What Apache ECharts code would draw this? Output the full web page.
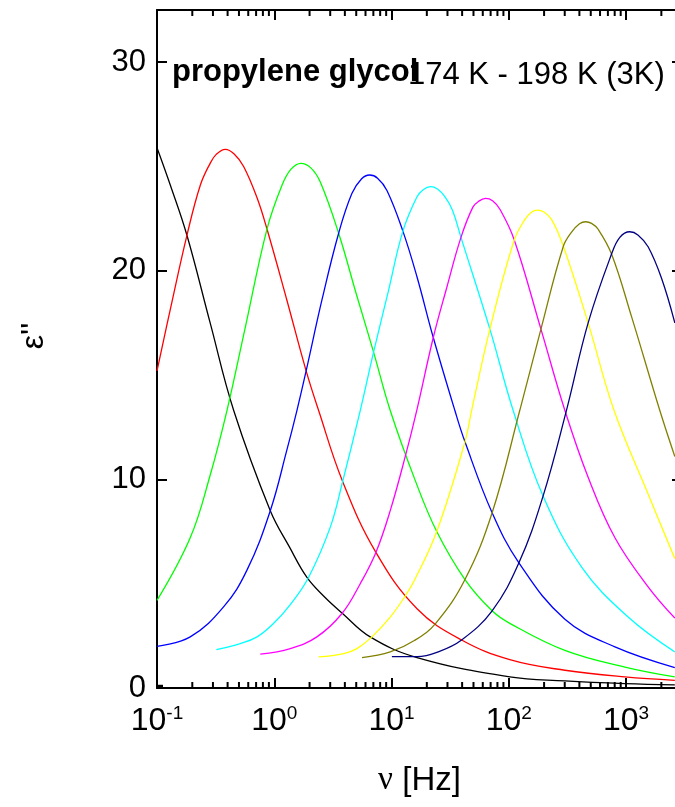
<!DOCTYPE html>
<html>
<head>
<meta charset="utf-8">
<script src="https://cdn.jsdelivr.net/npm/echarts@6/dist/echarts.min.js"></script>
<style>html,body{margin:0;padding:0;background:#fff;}#c{width:675px;height:807px;}</style>
</head>
<body>
<div id="c"></div>
<script>
// ---- data (frequency [Hz], epsilon'') ----
const seriesNames = ['black', 'red', 'green', 'blue', 'cyan', 'magenta', 'yellow', 'olive', 'navy'];
const seriesColors = ['#000000', '#ff0000', '#00ff00', '#0000ff', '#00ffff', '#ff00ff', '#ffff00', '#808000', '#000080'];

const blackData = [[0.1, 25.9], [0.130, 24.1], [0.180, 21.7], [0.284, 17.5], [0.451, 13.3], [0.925, 8.5], [1.35, 6.75], [1.90, 5.3], [2.70, 4.35], [3.78, 3.6], [6.58, 2.45], [16.5, 1.46], [102, 0.53], [301, 0.34], [977, 0.21], [2606, 0.15]];
const redData = [[0.1, 15.2], [0.134, 18.5], [0.180, 21.7], [0.234, 24.1], [0.284, 25.15], [0.32, 25.58], [0.382, 25.82], [0.455, 25.6], [0.548, 25.0], [0.713, 23.5], [0.867, 22.0], [1.28, 18.6], [1.87, 15.2], [2.39, 13.3], [3.83, 9.9], [7.36, 6.5], [16.5, 3.8], [39.6, 2.3], [102, 1.36], [301, 0.85], [977, 0.53], [2606, 0.37]];
const greenData = [[0.1, 4.2], [0.192, 7.2], [0.284, 10.2], [0.395, 13.3], [0.562, 17.2], [0.867, 22.0], [1.164, 24.1], [1.39, 24.87], [1.69, 25.15], [2.06, 24.92], [2.47, 24.25], [3.54, 21.8], [5.0, 18.9], [7.03, 16.1], [9.75, 13.3], [15.8, 10.0], [24.3, 7.5], [42.3, 5.2], [72.1, 3.7], [102, 3.1], [301, 1.8], [977, 1.0], [2606, 0.53]];
const blueData = [[0.1, 2.0], [0.192, 2.45], [0.371, 3.9], [0.585, 5.65], [0.925, 8.5], [1.28, 11.4], [1.56, 13.3], [1.87, 15.2], [2.55, 18.6], [3.54, 21.8], [4.59, 23.7], [5.56, 24.41], [6.50, 24.59], [7.60, 24.44], [9.14, 23.85], [12.5, 21.9], [16.5, 19.7], [22.7, 16.8], [34.7, 13.3], [42.3, 11.8], [72.1, 8.4], [122, 6.0], [301, 3.3], [804, 1.97], [2606, 0.98]];
const cyanData = [[0.321, 1.84], [0.513, 2.13], [0.713, 2.45], [0.989, 3.1], [1.37, 4.0], [1.96, 5.3], [3.00, 7.7], [3.83, 9.9], [5.41, 13.3], [7.03, 16.1], [9.38, 19.0], [12.5, 21.9], [16.5, 23.55], [18.75, 23.9], [21.5, 24.03], [24.65, 23.92], [28.5, 23.55], [33.1, 22.9], [39.1, 21.6], [69.0, 17.2], [109, 13.3], [196, 9.2], [418, 5.8], [1042, 3.4], [2606, 1.73]];
const magentaData = [[0.760, 1.62], [1.37, 1.89], [2.31, 2.45], [3.78, 3.57], [5.41, 5.0], [7.36, 6.5], [9.75, 8.5], [13.1, 11.1], [16.4, 13.3], [22.7, 16.8], [29.6, 19.2], [39.1, 21.6], [49.4, 23.05], [55.3, 23.33], [63.4, 23.47], [72.7, 23.36], [84.0, 22.95], [111, 21.5], [188, 17.2], [301, 13.3], [475, 10.1], [804, 7.2], [1542, 4.85], [2606, 3.35]];
const yellowData = [[2.39, 1.49], [3.91, 1.65], [5.07, 1.89], [6.81, 2.45], [9.75, 3.4], [12.7, 4.3], [15.8, 5.2], [24.3, 7.5], [42.3, 11.8], [48.2, 13.3], [69.0, 17.2], [111, 21.45], [137, 22.45], [156, 22.81], [176, 22.91], [198, 22.83], [232, 22.45], [291, 21.2], [475, 17.5], [791, 13.3], [1542, 9.3], [2606, 6.2]];
const oliveData = [[5.60, 1.46], [9.75, 1.73], [15.8, 2.29], [23.8, 3.1], [42.3, 5.2], [72.1, 8.4], [124, 13.3], [188, 17.2], [291, 21.15], [343, 21.85], [401, 22.25], [452, 22.35], [508, 22.27], [578, 21.99], [752, 20.8], [1114, 17.8], [1941, 13.3], [2606, 11.1]];
const navyData = [[10.07, 1.5], [16.5, 1.5], [25.0, 1.73], [39.6, 2.3], [72.1, 3.7], [122, 6.0], [196, 9.2], [310, 13.3], [475, 17.5], [752, 20.8], [885, 21.6], [1076, 21.87], [1262, 21.72], [1542, 21.15], [2004, 19.65], [2606, 17.5]];

const allData = [blackData, redData, greenData, blueData, cyanData, magentaData, yellowData, oliveData, navyData];

// axis ranges and tick values
const xMin = 0.1, xMax = 3000;
const yMin = 0, yMax = 32.5, yInterval = 10;
const yMinorTicks = [5, 15, 25];
const xMinorTicks = [0.2, 0.3, 0.4, 0.5, 0.6, 0.7, 0.8, 0.9, 2, 3, 4, 5, 6, 7, 8, 9, 20, 30, 40, 50, 60, 70, 80, 90, 200, 300, 400, 500, 600, 700, 800, 900, 2000];

const titleText = 'propylene glycol';
const rangeText = '174 K - 198 K (3K)';
const xName = '{g|\u03bd} [Hz]';
const yName = "\u03b5''";

const FONT = 'Liberation Sans, Arial, sans-serif';

const chart = echarts.init(document.getElementById('c'), null, {renderer: 'canvas'});

function xLabel(v) {
  const e = Math.log10(v);
  const r = Math.round(e);
  if (Math.abs(e - r) > 1e-6) return '';
  return '{b|10}{s|' + r + '}';
}

const axisLine = {show: true, onZero: false, lineStyle: {color: '#000', width: 2}};

const lineSeries = allData.map((d, i) => ({
  type: 'line',
  name: seriesNames[i],
  data: d,
  xAxisIndex: 0, yAxisIndex: 0,
  showSymbol: false,
  smooth: 0.4,
  lineStyle: {color: seriesColors[i], width: 1.3},
  itemStyle: {color: seriesColors[i]},
  silent: true,
  z: 3
}));

function tickRenderer(kind) {
  return function (params, api) {
    const v = api.value(0);
    const len = 6;
    const st = {stroke: '#000', lineWidth: 2};
    if (kind === 'x') {
      const pb = api.coord([v, yMin]);
      const pt = api.coord([v, yMax]);
      return {type: 'group', children: [
        {type: 'line', shape: {x1: pb[0], y1: pb[1], x2: pb[0], y2: pb[1] - len}, style: st},
        {type: 'line', shape: {x1: pt[0], y1: pt[1], x2: pt[0], y2: pt[1] + len}, style: st}
      ]};
    } else {
      const pl = api.coord([xMin, v]);
      const pr = api.coord([xMax, v]);
      return {type: 'group', children: [
        {type: 'line', shape: {x1: pl[0], y1: pl[1], x2: pl[0] + len, y2: pl[1]}, style: st},
        {type: 'line', shape: {x1: pr[0], y1: pr[1], x2: pr[0] - len, y2: pr[1]}, style: st}
      ]};
    }
  };
}

const option = {
  animation: false,
  backgroundColor: '#fff',
  grid: {left: 157, width: 525, top: 10, height: 678, containLabel: false, outerBoundsMode: 'none'},
  xAxis: [
    {
      type: 'log', logBase: 10, min: xMin, max: xMax, position: 'bottom',
      axisLine: axisLine,
      axisTick: {show: true, inside: true, length: 10, lineStyle: {color: '#000', width: 2}},
      splitLine: {show: false},
      axisLabel: {
        show: true, margin: 16, formatter: xLabel, color: '#000', hideOverlap: false,
        rich: {
          b: {fontSize: 32, fontFamily: FONT, color: '#000', lineHeight: 34},
          s: {fontSize: 19, fontFamily: FONT, color: '#000', verticalAlign: 'top', lineHeight: 24}
        }
      },
      name: xName, nameLocation: 'middle', nameGap: 76,
      nameTextStyle: {fontSize: 33, fontFamily: FONT, color: '#000',
        rich: {g: {fontSize: 33, fontFamily: 'Liberation Serif, DejaVu Serif, serif', color: '#000'}}}
    },
    {
      type: 'log', logBase: 10, min: xMin, max: xMax, position: 'top',
      axisLine: axisLine,
      axisTick: {show: true, inside: true, length: 10, lineStyle: {color: '#000', width: 2}},
      splitLine: {show: false},
      axisLabel: {show: false}
    }
  ],
  yAxis: [
    {
      type: 'value', min: yMin, max: yMax, interval: yInterval, position: 'left',
      axisLine: axisLine,
      axisTick: {show: true, inside: true, length: 10, lineStyle: {color: '#000', width: 2}},
      splitLine: {show: false},
      axisLabel: {show: true, margin: 11, fontSize: 31, fontFamily: FONT, color: '#000',
        formatter: v => (v % yInterval === 0 ? String(v) : '')}
    },
    {
      type: 'value', min: yMin, max: yMax, interval: yInterval, position: 'right',
      axisLine: axisLine,
      axisTick: {show: true, inside: true, length: 10, lineStyle: {color: '#000', width: 2}},
      splitLine: {show: false},
      axisLabel: {show: false}
    }
  ],
  series: lineSeries.concat([
    {type: 'custom', renderItem: tickRenderer('x'), data: xMinorTicks.map(v => [v, yMin]),
      xAxisIndex: 0, yAxisIndex: 0, silent: true, clip: false, z: 5},
    {type: 'custom', renderItem: tickRenderer('y'), data: yMinorTicks.map(v => [xMin, v]),
      xAxisIndex: 0, yAxisIndex: 0, silent: true, clip: false, z: 5}
  ]),
  graphic: [
    {type: 'text', left: 172, top: 57, z: 10,
      style: {text: titleText, font: 'bold 31px ' + FONT, fill: '#000'}},
    {type: 'text', left: 408, top: 60, z: 9,
      style: {text: rangeText, font: '31px ' + FONT, fill: '#000'}},
    {type: 'text', x: 34, y: 336, rotation: Math.PI / 2, z: 10,
      style: {text: yName, font: '32px ' + FONT, fill: '#000', align: 'center', verticalAlign: 'middle'}}
  ]
};

chart.setOption(option);
</script>
</body>
</html>
